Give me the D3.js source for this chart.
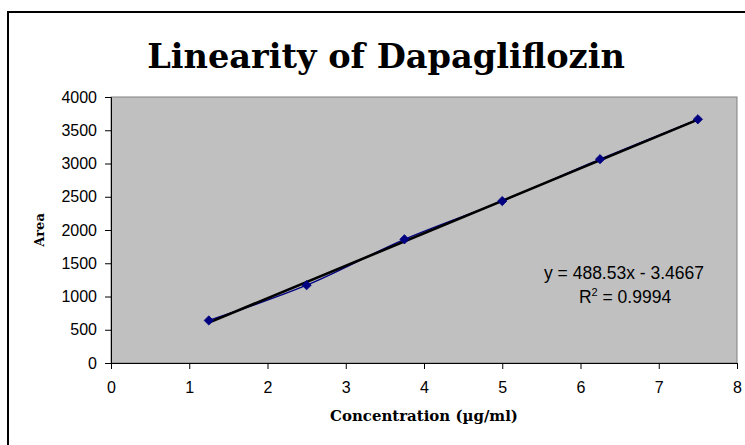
<!DOCTYPE html>
<html><head><meta charset="utf-8">
<script src="https://cdn.jsdelivr.net/npm/d3@7"></script>
<style>body{margin:0;background:#fff}svg{display:block}</style>
</head><body>
<svg id="c" width="745" height="445"></svg>
<script>
const concentrations = [1.25, 2.5, 3.75, 5, 6.25, 7.5];
const areas = [640, 1170, 1860, 2435, 3065, 3665];
const xTicks = [0, 1, 2, 3, 4, 5, 6, 7, 8];
const yTicks = [0, 500, 1000, 1500, 2000, 2500, 3000, 3500, 4000];
const slope = 488.53, intercept = -3.4667;
const titleText = "Linearity of Dapagliflozin";
const xLabel = "Concentration (\u00b5g/ml)";
const yLabel = "Area";
const eqText = "y = 488.53x - 3.4667";
const r2Value = "0.9994";

const svg = d3.select("#c");
const m = {l:111, t:97, r:737, b:363};
const x = d3.scaleLinear().domain([0,8]).range([m.l, m.r]);
const y = d3.scaleLinear().domain([0,4000]).range([m.b, m.t]);

// outer chart border
svg.append("rect").attr("x",8).attr("y",12).attr("width",760).attr("height",460)
  .attr("fill","#fff").attr("stroke","#000").attr("stroke-width",2);

// plot area
svg.append("rect").attr("x",m.l).attr("y",m.t).attr("width",m.r-m.l).attr("height",m.b-m.t)
  .attr("fill","#c0c0c0").attr("stroke","#808080").attr("stroke-width",1);

// axes
const xa = svg.append("g").attr("transform",`translate(0,${m.b})`)
  .call(d3.axisBottom(x).tickValues(xTicks).tickSize(6).tickPadding(13).tickFormat(d3.format("d")));
const ya = svg.append("g").attr("transform",`translate(${m.l},0)`)
  .call(d3.axisLeft(y).tickValues(yTicks).tickSize(6).tickPadding(8).tickFormat(d3.format("d")));
[xa, ya].forEach(g => {
  g.selectAll("text").attr("font-family","Liberation Sans, Arial, sans-serif").attr("font-size","16px").attr("fill","#000");
  g.select(".domain").attr("stroke","#000");
  g.selectAll(".tick line").attr("stroke","#000");
});

// smoothed data line
const line = d3.line().x((d,i)=>x(concentrations[i])).y(d=>y(d)).curve(d3.curveCatmullRom.alpha(0.5));
svg.append("path").attr("d", line(areas)).attr("fill","none").attr("stroke","#000080").attr("stroke-width",1.3);

// trendline
const x0 = concentrations[0], x1 = concentrations[concentrations.length-1];
svg.append("line").attr("x1",x(x0)).attr("y1",y(slope*x0+intercept))
  .attr("x2",x(x1)).attr("y2",y(slope*x1+intercept))
  .attr("stroke","#000").attr("stroke-width",2.6);

// markers
svg.append("g").selectAll("path").data(areas).join("path")
  .attr("transform",(d,i)=>`translate(${x(concentrations[i])},${y(d)})`)
  .attr("d", d3.symbol().type(d3.symbolDiamond2).size(55))
  .attr("fill","#000080").attr("stroke","#000080").attr("stroke-width",0.8);

// title
const t = svg.append("text").attr("x",386).attr("y",68).attr("text-anchor","middle")
  .attr("font-family","DejaVu Serif, serif").attr("font-weight","bold").attr("font-size","32px").text(titleText);
const tw = t.node().getComputedTextLength();
t.attr("font-size", (32*478/tw).toFixed(2)+"px");

// axis titles
const xl = svg.append("text").attr("x",424).attr("y",421).attr("text-anchor","middle")
  .attr("font-family","DejaVu Serif, serif").attr("font-weight","bold").attr("font-size","13px").text(xLabel);
const xlw = xl.node().getComputedTextLength();
xl.attr("font-size", (13*188/xlw).toFixed(2)+"px");
svg.append("text").attr("transform","translate(44,230) rotate(-90)").attr("text-anchor","middle")
  .attr("font-family","DejaVu Serif, serif").attr("font-weight","bold").attr("font-size","13px").text(yLabel);

// equation
svg.append("text").attr("x",624).attr("y",279).attr("text-anchor","middle")
  .attr("font-family","Liberation Sans, Arial, sans-serif").attr("font-size","17.5px").text(eqText);
const r2 = svg.append("text").attr("x",625).attr("y",303).attr("text-anchor","middle")
  .attr("font-family","Liberation Sans, Arial, sans-serif").attr("font-size","17.5px");
r2.append("tspan").text("R");
r2.append("tspan").attr("dy","-7").attr("font-size","11px").text("2");
r2.append("tspan").attr("dy","7").text(" = " + r2Value);
</script>
</body></html>
